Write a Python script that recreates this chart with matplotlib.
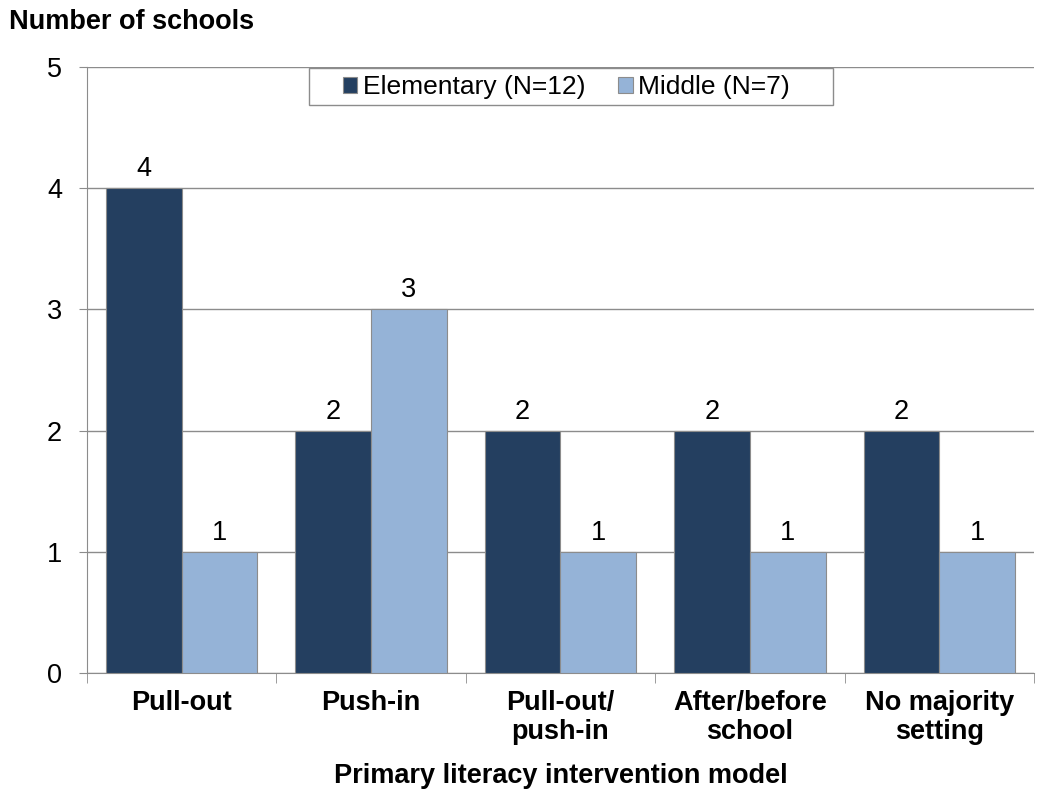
import matplotlib.pyplot as plt
from matplotlib.patches import Rectangle
import numpy as np

plt.rcParams['font.family'] = ['Liberation Sans', 'DejaVu Sans']

# Data
categories = ["Pull-out", "Push-in", "Pull-out/\npush-in", "After/before\nschool", "No majority\nsetting"]
elementary = [4, 2, 2, 2, 2]
middle = [1, 3, 1, 1, 1]
series_names = ["Elementary (N=12)", "Middle (N=7)"]

DARK = "#243F60"
LIGHT = "#95B3D7"
GRAY = "#8c8c8c"
FS = 19.5

fig = plt.figure(figsize=(10.46, 7.94), dpi=100)
ax = fig.add_axes([0.0832, 0.1524, 0.9053, 0.7632])

x = np.arange(len(categories))
w = 0.4
b1 = ax.bar(x - w / 2, elementary, w, color=DARK, edgecolor=GRAY, linewidth=0.8,
            label=series_names[0], zorder=3)
b2 = ax.bar(x + w / 2, middle, w, color=LIGHT, edgecolor=GRAY, linewidth=0.8,
            label=series_names[1], zorder=3)

for bars, vals in ((b1, elementary), (b2, middle)):
    for rect, v in zip(bars, vals):
        ax.text(rect.get_x() + rect.get_width() / 2, v + 0.05, str(v),
                ha="center", va="bottom", fontsize=FS)

ax.set_xlim(-0.5, len(categories) - 0.5)
ax.set_ylim(0, 5)
ax.set_yticks(range(6))
ax.yaxis.grid(True, color=GRAY, linewidth=1, zorder=0)
ax.tick_params(axis="y", labelsize=FS, length=6, color=GRAY, pad=12)

ax.set_xticks(x)
ax.set_xticklabels(categories, fontsize=FS, fontweight="bold", linespacing=1.15)
ax.tick_params(axis="x", length=0, pad=12)
ax.set_xticks(np.arange(-0.5, len(categories)), minor=True)
ax.tick_params(axis="x", which="minor", length=7, color=GRAY)

for side in ("top", "right"):
    ax.spines[side].set_visible(False)
for side in ("left", "bottom"):
    ax.spines[side].set_color(GRAY)

ax.set_xlabel("Primary literacy intervention model", fontsize=FS, fontweight="bold", labelpad=13)
fig.text(0.009, 0.972, "Number of schools", fontsize=FS, fontweight="bold", va="center")

# legend box (Excel-style wide padding)
ax.add_patch(Rectangle((0.2344, 0.9373), 0.5534, 0.061, transform=ax.transAxes,
                       facecolor="white", edgecolor=GRAY, linewidth=1, zorder=4,
                       clip_on=False))
leg = ax.legend(loc="center", bbox_to_anchor=(0.506, 0.9665), ncol=2, fontsize=19,
                frameon=False, handlelength=0.55, handleheight=0.55, handletextpad=0.2,
                columnspacing=1.25, borderpad=0, borderaxespad=0)
leg.set_zorder(5)

fig.savefig("out.png", dpi=100)
